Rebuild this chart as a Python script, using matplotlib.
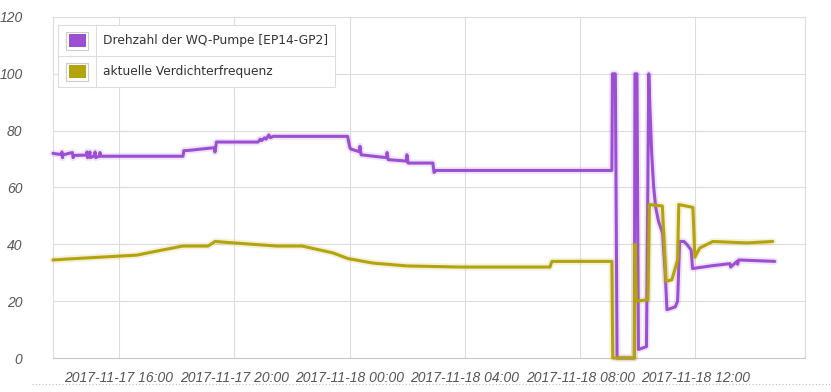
import numpy as np
import pandas as pd
import matplotlib
matplotlib.use("Agg")
import matplotlib.pyplot as plt
import matplotlib.dates as mdates
import matplotlib.patheffects as pe
from matplotlib.patches import Rectangle
from matplotlib.lines import Line2D

# hours since 2017-11-17 00:00
pump_hours = [13.71, 14.00, 14.02, 14.04, 14.06, 14.38, 14.41, 14.43, 14.87, 14.89, 14.91,
              14.97, 14.99, 15.01, 15.15, 15.17, 15.19, 15.32, 15.34, 15.36, 18.22, 18.25,
              18.36, 19.30, 19.33, 19.38, 20.82, 20.90, 20.95, 21.05, 21.10, 21.20, 21.25,
              21.35, 23.93, 24.01, 24.05, 24.34, 24.36, 24.40, 25.28, 25.30, 25.34, 25.97,
              25.99, 26.03, 26.89, 26.93, 27.00, 33.10, 33.12, 33.22, 33.28, 33.88, 33.90,
              33.97, 34.02, 34.30, 34.38, 34.42, 34.48, 34.55, 34.62, 34.72, 34.86, 34.95,
              35.01, 35.30, 35.38, 35.45, 35.60, 35.70, 35.85, 35.90, 36.60, 37.20, 37.22,
              37.44, 37.46, 37.50, 38.75]
pump_vals = [72, 71.6, 72.5, 70.5, 71.5, 72.3, 70.5, 71.3, 71.4, 72.5, 70.5,
             71.3, 72.5, 70.5, 71.2, 72.5, 70.5, 71.1, 72.3, 71, 71, 73,
             73, 74, 72.5, 76, 76, 77, 76.5, 77.5, 77, 78.5, 77.5,
             78, 78, 74, 73.5, 72.6, 74.5, 71.5, 70.5, 72.3, 69.8, 69.3,
             71.5, 68.6, 68.6, 65.3, 66, 66, 100, 100, 0, 0, 100,
             100, 3, 4, 100, 88, 72, 60, 53, 48, 44, 30,
             17, 18, 20, 41, 41, 40, 38, 31.5, 32.5, 33.2, 32,
             34, 33, 34.5, 34]

comp_hours = [13.71, 14.50, 16.62, 17.40, 18.22, 19.09, 19.33, 20.65, 21.48, 22.35, 23.42,
              23.94, 24.81, 25.99, 27.83, 30.95, 31.02, 33.10, 33.13, 33.88, 33.90, 33.95,
              34.35, 34.40, 34.85, 34.98, 35.18, 35.38, 35.42, 35.91, 35.98, 36.15, 36.60,
              37.78, 38.68]
comp_vals = [34.5, 35, 36.2, 37.8, 39.4, 39.4, 41, 40, 39.4, 39.4, 37,
             35, 33.4, 32.4, 32, 32, 34, 34, 0, 0, 40, 20,
             20.5, 54, 53.5, 27, 27.5, 34.5, 54, 53, 35.5, 38.7, 41,
             40.5, 41]

series_names = ["Drehzahl der WQ-Pumpe [EP14-GP2]", "aktuelle Verdichterfrequenz"]
series_colors = ["#9b50d4", "#b3a30c"]

base = pd.Timestamp("2017-11-17 00:00")
pump_t = base + pd.to_timedelta(pump_hours, unit="h")
comp_t = base + pd.to_timedelta(comp_hours, unit="h")

fig = plt.figure(figsize=(8.31, 3.92), dpi=100)
ax = fig.add_axes([53 / 831, 34 / 392, 752 / 831, 341 / 392])

for t, v, c, z in [(pump_t, pump_vals, series_colors[0], 3), (comp_t, comp_vals, series_colors[1], 4)]:
    glow = [pe.Stroke(linewidth=5, foreground=c, alpha=0.15), pe.Normal()]
    ax.plot(t, v, color=c, lw=2.2, path_effects=glow, clip_on=False, zorder=z,
            solid_joinstyle="round", solid_capstyle="round")

ax.set_ylim(0, 120)
ax.set_xlim(base + pd.Timedelta(hours=13.71), base + pd.Timedelta(hours=39.8))
ax.set_yticks(np.arange(0, 121, 20))
ticks = pd.date_range("2017-11-17 16:00", periods=6, freq="4h")
ax.set_xticks(ticks)
ax.xaxis.set_major_formatter(mdates.DateFormatter("%Y-%m-%d %H:%M"))

ax.grid(True, color="#dddddd", lw=0.8)
ax.set_axisbelow(True)
for s in ["left", "right", "top"]:
    ax.spines[s].set_color("#dddddd")
    ax.spines[s].set_linewidth(0.8)
ax.spines["bottom"].set_color("#c8c8c8")
ax.tick_params(length=0)
for lab in ax.get_xticklabels() + ax.get_yticklabels():
    lab.set_fontfamily("Liberation Sans")
    lab.set_fontstyle("italic")
    lab.set_fontsize(10)
    lab.set_color("#555555")
ax.tick_params(axis="y", pad=22)
ax.tick_params(axis="x", pad=9)

# legend as a small table
lx0, lx1 = 58 / 831, 335 / 831
ly_top, ly_mid, ly_bot = 1 - 25 / 392, 1 - 56 / 392, 1 - 87 / 392
fig.add_artist(Rectangle((lx0, ly_bot), lx1 - lx0, ly_top - ly_bot, transform=fig.transFigure,
                         facecolor="white", edgecolor="#dddddd", lw=0.8, zorder=10))
fig.add_artist(Line2D([lx0, lx1], [ly_mid, ly_mid], transform=fig.transFigure,
                      color="#dddddd", lw=0.8, zorder=11))
fig.add_artist(Line2D([96 / 831, 96 / 831], [ly_bot, ly_top], transform=fig.transFigure,
                      color="#dddddd", lw=0.8, zorder=11))
for i, (name, col) in enumerate(zip(series_names, series_colors)):
    yc = (ly_top + ly_mid) / 2 if i == 0 else (ly_mid + ly_bot) / 2
    fig.add_artist(Rectangle((66 / 831, yc - 9 / 392), 22 / 831, 18 / 392, transform=fig.transFigure,
                             facecolor="white", edgecolor="#cccccc", lw=0.8, zorder=12))
    fig.add_artist(Rectangle((68.5 / 831, yc - 6.5 / 392), 17 / 831, 13 / 392, transform=fig.transFigure,
                             facecolor=col, edgecolor="none", zorder=13))
    fig.text(103 / 831, yc, name, fontsize=8.8, color="#333333", va="center", ha="left",
             family="DejaVu Sans", zorder=14)

# dotted separator under the chart
fig.add_artist(Line2D([32 / 831, 1], [1 - 384 / 392, 1 - 384 / 392], transform=fig.transFigure,
                      color="#bbbbbb", lw=0.8, ls=(0, (1, 2))))

fig.savefig("out.png", dpi=100)
